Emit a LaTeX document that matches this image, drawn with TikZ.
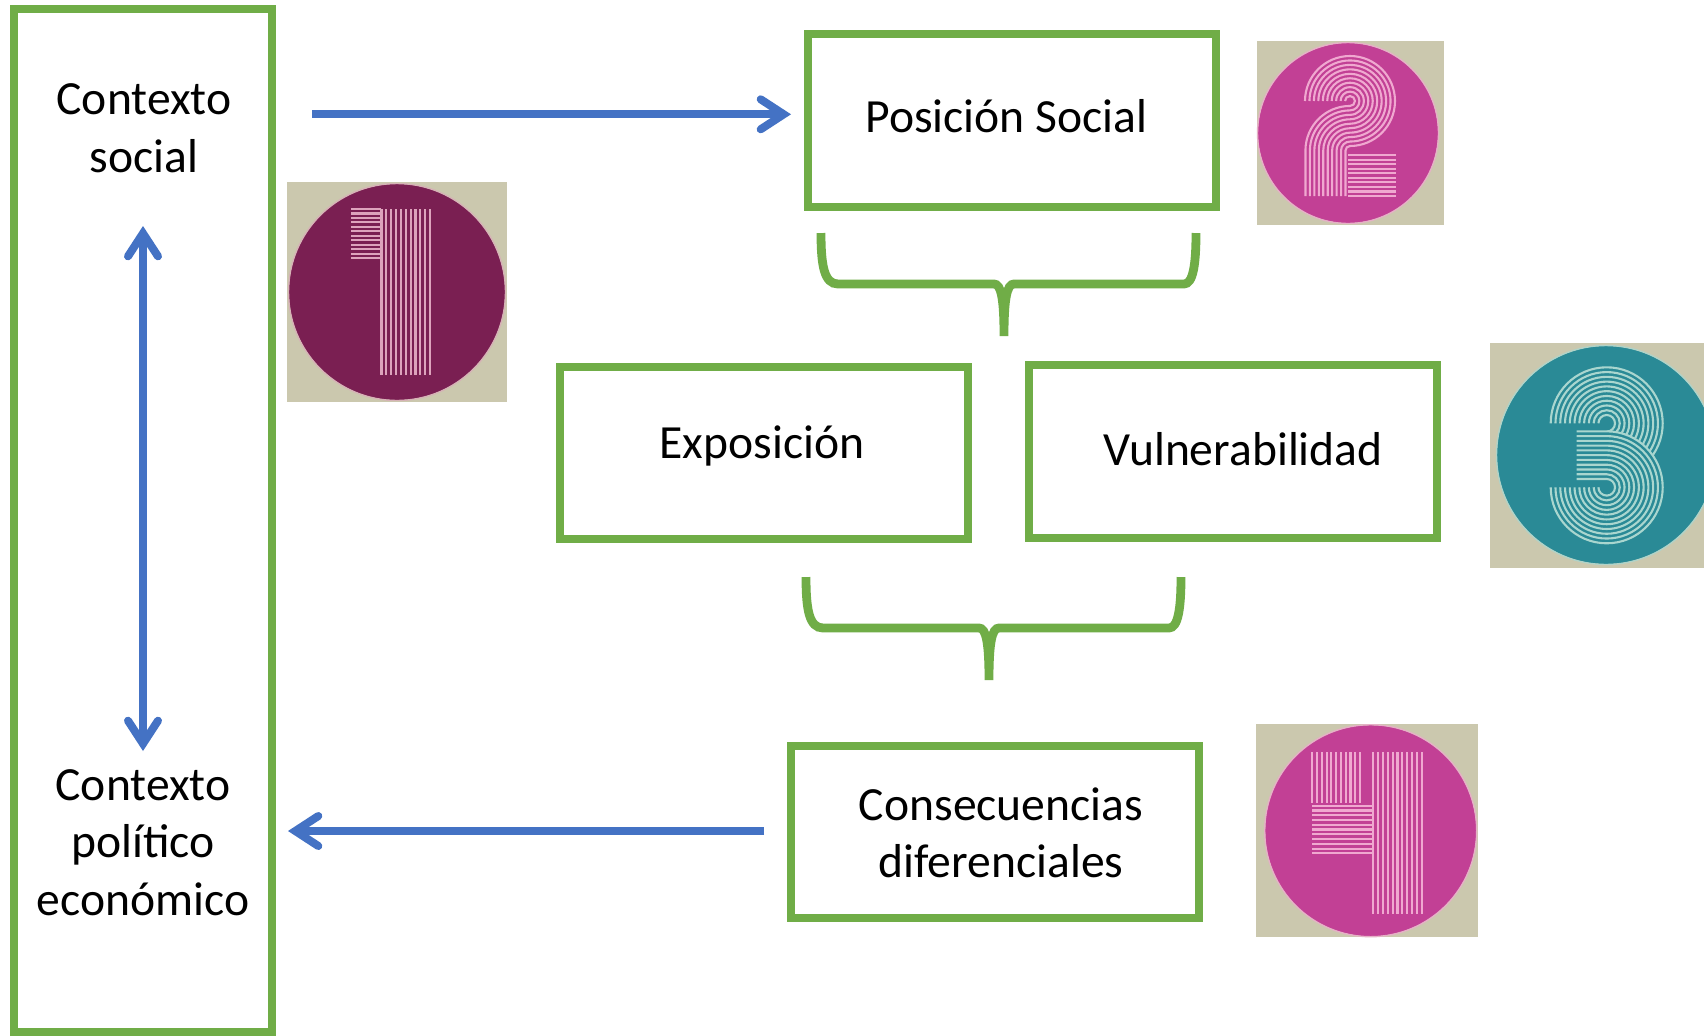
\documentclass[tikz,border=0pt]{standalone}
\usepackage{fontspec}
\setmainfont{Carlito}
\usetikzlibrary{arrows.meta}
\definecolor{gr}{HTML}{70AD47}
\definecolor{bl}{HTML}{4472C4}
\definecolor{beige}{HTML}{CBC8AE}
\definecolor{maroon}{HTML}{7A1F52}
\definecolor{maroonl}{HTML}{DDA3BC}
\definecolor{mag}{HTML}{C24095}
\definecolor{magl}{HTML}{F0A8D0}
\definecolor{teal}{HTML}{2A8A96}
\definecolor{teall}{HTML}{A9D6CF}
\tikzset{
 gbox/.style={draw=gr,line width=4pt,fill=none,inner sep=0pt,rectangle},
 lab/.style={font=\fontsize{23.8}{28.8}\selectfont,align=center,text=black,inner sep=0pt},
 conn/.style={draw=bl,line width=4pt},
 barbtip/.tip={Straight Barb[length=11.5pt,width=15pt,line width=4pt,line cap=round]},
 brace/.style={draw=gr,line width=4.4pt,line join=miter,miter limit=10},
 stripe/.style={line width=1.05pt}
}
% \vst{x0}{x1}{y0}{y1}{n}{colour}: n vertical lines
\newcommand{\vst}[6]{\foreach \k in {0,...,\numexpr#5-1\relax}{%
  \pgfmathsetmacro{\xx}{#1+(#2-#1)*\k/(#5-1)}%
  \draw[stripe,#6] (\xx,-#3) -- (\xx,-#4);}}
\newcommand{\hst}[6]{\foreach \k in {0,...,\numexpr#5-1\relax}{%
  \pgfmathsetmacro{\yy}{#3+(#4-#3)*\k/(#5-1)}%
  \draw[stripe,#6] (#1,-\yy) -- (#2,-\yy);}}
\newcommand{\gbrace}{%
  \draw[brace] (821,-233) .. controls (821,-265) and (824,-284) .. (838,-284) -- (994,-284)
    .. controls (1001,-284) and (1004,-298) .. (1004,-336)
    .. controls (1004,-298) and (1007,-284) .. (1014,-284) -- (1184,-284)
    .. controls (1193,-284) and (1196,-265) .. (1196,-233);}
\begin{document}
\begin{tikzpicture}[x=0.5pt,y=0.5pt]
\path[use as bounding box,fill=white] (0,0) rectangle (1704,-1035);

% boxes
\node[gbox,minimum width=129pt,minimum height=511.65pt] (ctx) at (143,-520.7) {};
\node[gbox,minimum width=204pt,minimum height=86.3pt] (pos) at (1012,-120.3) {};
\node[gbox,minimum width=204.15pt,minimum height=85.7pt] (exp) at (763.85,-453) {};
\node[gbox,minimum width=204pt,minimum height=86.3pt] (vul) at (1233.3,-451.3) {};
\node[gbox,minimum width=204pt,minimum height=86pt] (con) at (995.3,-831.7) {};

% labels
\node[lab] (tsoc) at (144,-128) {Contexto\\social};
\node[lab] (tpol) at (143,-842.5) {Contexto\\político\\económico};
\node[lab] (tpos) at (1006.5,-116) {Posición Social};
\node[lab] (texp) at (762,-446) {Exposición};
\node[lab] (tvul) at (1243,-449) {Vulnerabilidad};
\node[lab] (tcon) at (1001,-833) {Consecuencias\\[-0.5pt]diferenciales};

% connectors
\coordinate (a1s) at (312,-114.3);
\coordinate (a1e) at (791,-114.3);
\coordinate (a2s) at (143,-226);
\coordinate (a2e) at (143,-751);
\coordinate (a3s) at (764,-831);
\coordinate (a3e) at (288,-831);
\draw[conn,-barbtip] (a1s) -- (a1e);
\draw[conn,barbtip-barbtip] (a2s) -- (a2e);
\draw[conn,-barbtip] (a3s) -- (a3e);

% braces
\gbrace
\begin{scope}[shift={(-15,-344)}]\gbrace\end{scope}

% badge 1
\fill[beige] (287,-182) rectangle (507,-402);
\fill[maroon] (397,-292) circle (108);
\draw[maroonl!60!beige,line width=0.7pt] (397,-292) circle (108.5);
\vst{381.5}{430}{209}{375}{11}{maroonl}
\hst{351}{381}{209}{258}{12}{maroonl}

% badge 2
\fill[beige] (1257,-41) rectangle (1444,-225);
\fill[mag] (1348,-133) circle (90);
\draw[magl!70!beige,line width=0.7pt] (1348,-133) circle (90.5);
\foreach \k in {0,...,9}{%
  \pgfmathsetmacro{\ra}{45-\k*4.45}%
  \pgfmathsetmacro{\rb}{49.5-\ra}%
  \draw[stripe,magl] (1350-\ra,-101) arc[start angle=180,end angle=-90,radius=\ra]
     arc[start angle=90,end angle=180,radius=\rb] -- (1350-\rb,-196);
}
\hst{1348}{1396}{155}{196}{10}{magl}

% badge 3
\begin{scope}
\clip (1490,-343) rectangle (1704,-568);
\fill[beige] (1490,-343) rectangle (1704,-568);
\fill[teal] (1606,-455) circle (109);
\draw[teall!80!beige,line width=0.7pt] (1606,-455) circle (109.5);
\foreach \k in {0,...,10}{%
  \pgfmathsetmacro{\ra}{56-\k*4.77}%
  \draw[stripe,teall] (1606.7-\ra,-423.3) arc[start angle=180,end angle=-90,radius=\ra];
}
\fill[teal] (1606.7,-487.3) circle (56.5);
\fill[teal] (1576,-430.5) rectangle (1606.7,-487.3);
\foreach \k in {0,...,10}{%
  \pgfmathsetmacro{\ra}{56-\k*4.77}%
  \draw[stripe,teall] (1576.5,-487.3+\ra) -- (1606.7,-487.3+\ra)
     arc[start angle=90,end angle=-180,radius=\ra];
}
\end{scope}

% badge 4
\fill[beige] (1256,-724) rectangle (1478,-937);
\fill[mag] (1370.7,-830.7) circle (105.5);
\draw[magl!70!beige,line width=0.7pt] (1370.7,-830.7) circle (106);
\vst{1373.3}{1421.7}{752.3}{914.3}{11}{magl}
\vst{1312.3}{1360}{752.3}{803.3}{11}{magl}
\hst{1312.3}{1373.3}{805.7}{853.3}{11}{magl}
\end{tikzpicture}
\end{document}
